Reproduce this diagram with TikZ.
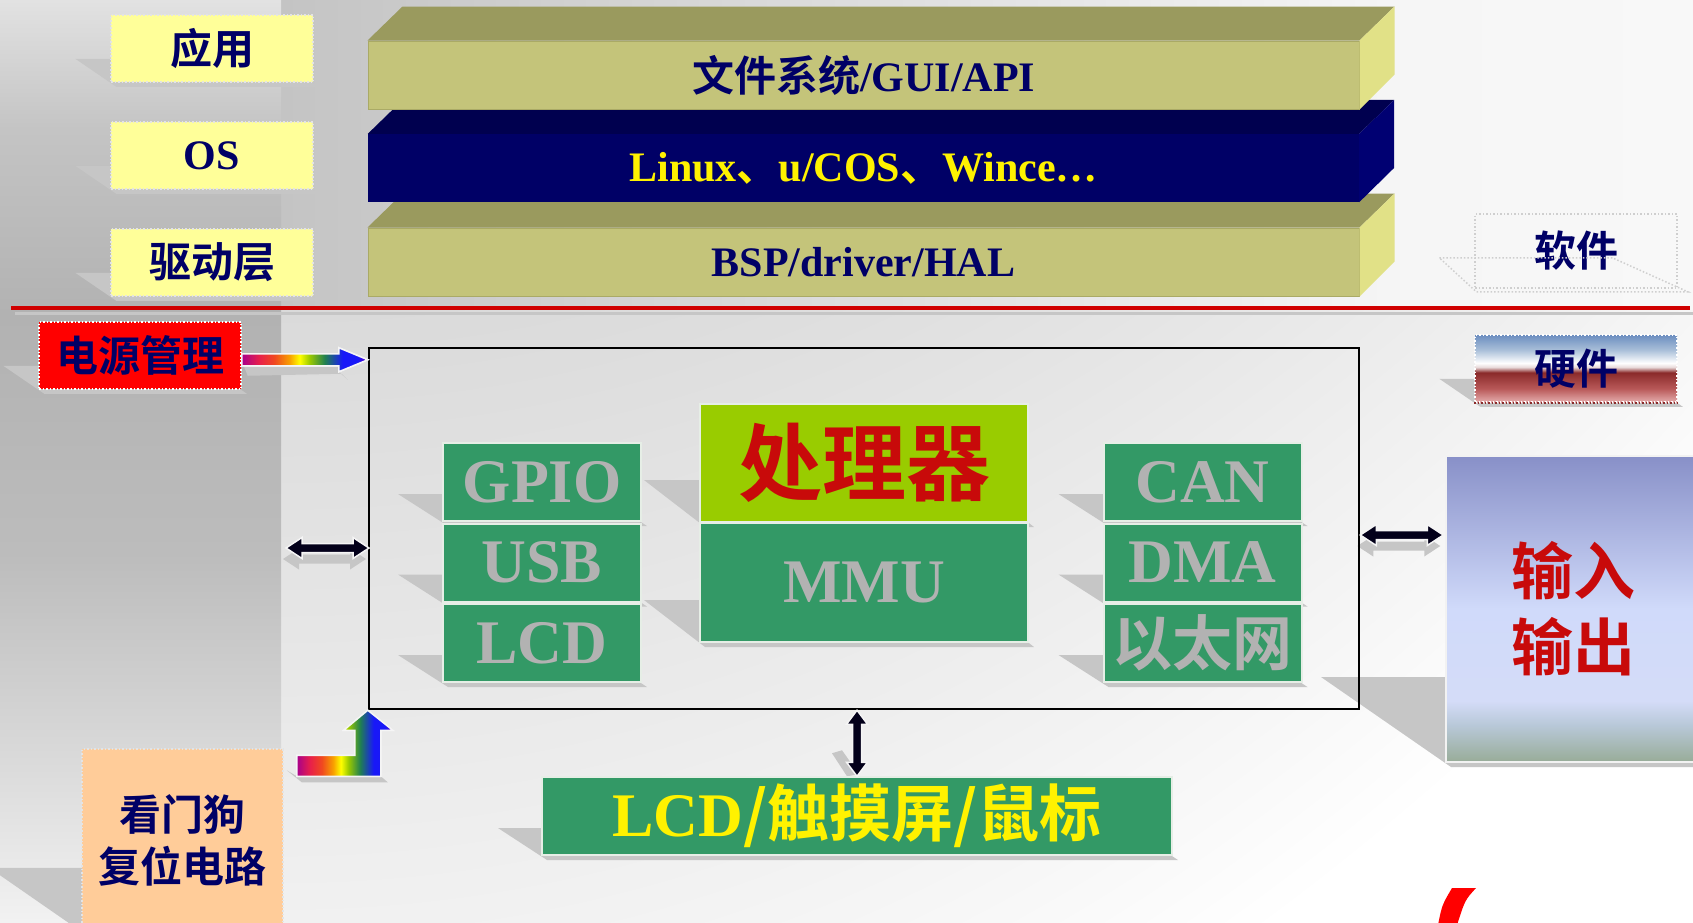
\documentclass[tikz,border=0pt]{standalone}
\usepackage{fontspec}
\setmainfont{Liberation Serif}
\newfontfamily\cjk{Noto Sans CJK SC}[UprightFont=* Bold,BoldFont=* Bold]
\usetikzlibrary{calc}
\newcommand\fsz[1]{\fontsize{#1}{#1}\selectfont}
\definecolor{lblyellow}{HTML}{FFFF99}
\definecolor{navy}{HTML}{000066}
\definecolor{barfront}{HTML}{C4C47A}
\definecolor{baredge}{HTML}{AAAA66}
\definecolor{bartop}{HTML}{9A9A5E}
\definecolor{barside}{HTML}{E1E187}
\definecolor{navytop}{HTML}{00004F}
\definecolor{navyside}{HTML}{000072}
\definecolor{grn}{HTML}{339966}
\definecolor{blkline}{HTML}{E6EEE6}
\definecolor{cpugrn}{HTML}{99CC00}
\definecolor{txtgray}{HTML}{B2B2B2}
\definecolor{cpured}{HTML}{C80A0A}
\definecolor{peach}{HTML}{FFCC99}
\definecolor{shadowc}{HTML}{C6C6C6}
\definecolor{dotc}{HTML}{E4E4E4}
\definecolor{dotgray}{HTML}{CFCFCF}
\definecolor{redline}{HTML}{D00000}
\definecolor{arrowblk}{HTML}{03001A}
% shading colours
\definecolor{lb1}{HTML}{F2F2F2}\definecolor{lb2}{HTML}{DCDCDC}\definecolor{lb3}{HTML}{BCBCBC}
\definecolor{lb4}{HTML}{B2B2B2}\definecolor{lb5}{HTML}{C4C4C4}\definecolor{lb6}{HTML}{E2E2E2}
\definecolor{tb1}{HTML}{C4C4C4}\definecolor{tb2}{HTML}{F6F6F6}\definecolor{tb3}{HTML}{F8F8F8}
\definecolor{hw1}{HTML}{E4ACAC}\definecolor{hw2}{HTML}{B85858}\definecolor{hw3}{HTML}{8A2A2A}
\definecolor{hw4}{HTML}{E8DADA}\definecolor{hw5}{HTML}{FFFFFF}\definecolor{hw6}{HTML}{A8BED8}\definecolor{hw7}{HTML}{6C8EC0}
\definecolor{io1}{HTML}{98AC98}\definecolor{io2}{HTML}{B8C8D8}\definecolor{io3}{HTML}{D4DCF8}
\definecolor{io4}{HTML}{D0DAFA}\definecolor{io5}{HTML}{8890C8}
\definecolor{rb1}{HTML}{A8008C}\definecolor{rb2}{HTML}{E8204A}\definecolor{rb3}{HTML}{F04820}
\definecolor{rb4}{HTML}{F8A000}\definecolor{rb5}{HTML}{FFFF00}\definecolor{rb6}{HTML}{98C800}
\definecolor{rb7}{HTML}{208050}\definecolor{rb8}{HTML}{1818F8}\definecolor{rb9}{HTML}{6800C0}
\pgfdeclareverticalshading{leftbg}{100bp}{color(0bp)=(lb1); color(25bp)=(lb1); color(33bp)=(lb2); color(45bp)=(lb3); color(58bp)=(lb4); color(68bp)=(lb5); color(75bp)=(lb6); color(100bp)=(lb6)}
\pgfdeclarehorizontalshading{topbg}{100bp}{color(0bp)=(tb1); color(25bp)=(tb1); color(65bp)=(tb2); color(75bp)=(tb3); color(100bp)=(tb3)}
\pgfdeclarefunctionalshading{lowbg}{\pgfpoint{0bp}{0bp}}{\pgfpoint{100bp}{100bp}}{}{
 25 sub 50 div 1 exch sub 0.09 mul
 exch 25 sub 50 div dup mul 0.11 mul
 add 0.855 add
 dup dup
}
\pgfdeclareverticalshading{hwshade}{100bp}{color(0bp)=(hw1); color(25bp)=(hw1); color(35bp)=(hw2); color(47bp)=(hw3); color(51bp)=(hw4); color(54bp)=(hw5); color(64bp)=(hw6); color(75bp)=(hw7); color(100bp)=(hw7)}
\pgfdeclareverticalshading{ioshade}{100bp}{color(0bp)=(io1); color(25bp)=(io1); color(31bp)=(io2); color(35bp)=(io3); color(50bp)=(io4); color(75bp)=(io5); color(100bp)=(io5)}
\pgfdeclarehorizontalshading{rainbow}{100bp}{color(0bp)=(rb1); color(25bp)=(rb1); color(32bp)=(rb2); color(38bp)=(rb3); color(44bp)=(rb4); color(48bp)=(rb5); color(52bp)=(rb6); color(58bp)=(rb7); color(65bp)=(rb8); color(71bp)=(rb8); color(75bp)=(rb9); color(100bp)=(rb9)}
\pgfdeclarelayer{bg}\pgfdeclarelayer{shadow}
\pgfsetlayers{bg,shadow,main}
\newcommand\dblh[3]{\filldraw[#3] (#1) -- ++(16,-10.5) -- ++(0,6) -- ++({#2-32},0) -- ++(0,-6) -- ++(16,10.5) -- ++(-16,10.5) -- ++(0,-6) -- ++({32-#2},0) -- ++(0,6) -- cycle;}
\newcommand\dblv[3]{\filldraw[#3] (#1) -- ++(10.5,14) -- ++(-6,0) -- ++(0,{#2-28}) -- ++(6,0) -- ++(-10.5,14) -- ++(-10.5,-14) -- ++(6,0) -- ++(0,{28-#2}) -- ++(-6,0) -- cycle;}
\newcommand\shd[3]{\fill[shadowc] ($(#1.south west)+(-#2,-#3)$) -- ($(#1.south east)+(-#2,-#3)$) -- ($(#1.south east)+(5,4)$) -- ($(#1.south west)+(6,4)$) -- cycle;}
\tikzset{
 lbl/.style={fill=lblyellow, draw=dotc, dotted, line width=1.5, minimum width=202, minimum height=67, inner sep=0, text=navy, font=\fsz{42}\cjk},
 barface/.style={minimum width=991, minimum height=68, inner sep=0, font=\fsz{42}\bfseries},
 gblk/.style={fill=grn, draw=blkline, line width=2, minimum width=198, minimum height=78, inner sep=0, text=txtgray, font=\fsz{62}\bfseries},
 blackarrow/.style={fill=arrowblk, draw=white!92!gray, line width=1.5},
 arrowshadow/.style={fill=shadowc, draw=none},
 rainbowarrow/.style={shading=rainbow, draw=white!92!gray, line width=1.5},
}
\begin{document}
\begin{tikzpicture}[x=1pt,y=-1pt]
\useasboundingbox (0,0) rectangle (1693,922);
% ---------- bars (bottom first) ----------
\node[barface, fill=barfront, draw=baredge, line width=1, text=navy] (barC) at (863.5,262) {BSP/driver/HAL};
\fill[bartop] (barC.north west) -- ++(35,-34) -- ($(barC.north east)+(35,-34)$) -- (barC.north east) -- cycle;
\fill[barside] (barC.north east) -- ++(35,-34) -- ++(0,68) -- (barC.south east) -- cycle;
\node[barface, fill=navy, text=yellow] (barB) at (863.5,168) {Linux{\cjk 、}u/COS{\cjk 、}Wince…};
\fill[navytop] (barB.north west) -- ++(35,-34) -- ($(barB.north east)+(35,-34)$) -- (barB.north east) -- cycle;
\fill[navyside] (barB.north east) -- ++(35,-34) -- ++(0,68) -- (barB.south east) -- cycle;
\node[barface, fill=barfront, draw=baredge, line width=1, text=navy] (barA) at (863.5,75) {{\cjk 文件系统}/GUI/API};
\fill[bartop] (barA.north west) -- ++(35,-34) -- ($(barA.north east)+(35,-34)$) -- (barA.north east) -- cycle;
\fill[barside] (barA.north east) -- ++(35,-34) -- ++(0,68) -- (barA.south east) -- cycle;
% ---------- left labels ----------
\node[lbl] (app) at (212,48.5) {应用};
\node[lbl, font=\fsz{42}\bfseries] (os) at (212,155.5) {OS};
\node[lbl] (drv) at (212,262.5) {驱动层};
\node[lbl, fill=red, draw=white] (pwr) at (140,355.5) {电源管理};
\node[fill=peach, draw=dotc, dotted, line width=1.5, minimum width=201, minimum height=182, inner sep=0, text=navy, align=center, font=\fontsize{42}{52}\selectfont\cjk] (wd) at (182.5,840) {看门狗\\复位电路};
% ---------- right labels ----------
\node[draw=dotgray, dotted, line width=1.5, minimum width=202, minimum height=74, inner sep=0, text=navy, font=\fsz{42}\cjk] (sw) at (1576,251) {软件};
\draw[dotgray, dotted, line width=1.5] ($(sw.south west)+(-35,-31)$) -- ($(sw.south west)+(138,-31)$) -- ($(sw.south east)+(10,3)$) -- ($(sw.south west)+(2,3)$) -- cycle;
\node[shading=hwshade, draw=white, dotted, line width=1.5, minimum width=202, minimum height=67, inner sep=0, text=navy, font=\fsz{42}\cjk] (hw) at (1576,368.5) {硬件};
\draw[hw3, dotted, line width=1.5] (hw.south west) -- (hw.south east);
% ---------- hardware ----------
\node[draw=black, line width=2.5, minimum width=990, minimum height=361, inner sep=0] (cont) at (864,528.5) {};
\node[gblk] (gpio) at (542,482) {GPIO};
\node[gblk] (usb) at (542,562.5) {USB};
\node[gblk] (lcd) at (542,643) {LCD};
\node[gblk] (can) at (1202.5,482) {CAN};
\node[gblk] (dma) at (1202.5,562.5) {DMA};
\node[gblk, font=\fsz{60}\cjk] (eth) at (1202.5,643) {以太网};
\node[gblk, fill=cpugrn, text=cpured, minimum width=328, minimum height=118, font=\fsz{84}\cjk] (cpu) at (864,463) {处理器};
\node[gblk, minimum width=328, minimum height=119] (mmu) at (864,582.5) {MMU};
\node[shading=ioshade, draw=white!90!gray, line width=2, minimum width=254, minimum height=306, inner sep=0, text=cpured, align=center, font=\fontsize{62}{76}\selectfont\cjk] (io) at (1573,609) {输入\\输出};
\node[gblk, text=yellow, minimum width=630] (lcdt) at (857,816) {LCD{\cjk /触摸屏/鼠标}};
% ---------- arrows ----------
\coordinate (ptip) at ($(cont.north west)+(0,13)$);
\coordinate (la) at (286,548);
\coordinate (ra) at (1444,535);
\coordinate (vt) at (lcdt.north |- cont.south);
\shade[rainbowarrow] ($(pwr.east |- ptip)+(0,-6)$) -- ($(ptip)+(-29,-6)$) -- ($(ptip)+(-29,-12)$) -- (ptip) -- ($(ptip)+(-29,12)$) -- ($(ptip)+(-29,6)$) -- ($(pwr.east |- ptip)+(0,6)$) -- cycle;
\draw[rainbowarrow] ($(pwr.east |- ptip)+(0,-6)$) -- ($(ptip)+(-29,-6)$) -- ($(ptip)+(-29,-12)$) -- (ptip) -- ($(ptip)+(-29,12)$) -- ($(ptip)+(-29,6)$) -- ($(pwr.east |- ptip)+(0,6)$) -- cycle;
\shade[rainbowarrow] (cont.south west) -- ++(25,20) -- ++(-12,0) -- ++(0,46) -- ++(-84,0) -- ++(0,-21) -- ++(58,0) -- ++(0,-25) -- ++(-11,0) -- cycle;
\draw[rainbowarrow] (cont.south west) -- ++(25,20) -- ++(-12,0) -- ++(0,46) -- ++(-84,0) -- ++(0,-21) -- ++(58,0) -- ++(0,-25) -- ++(-11,0) -- cycle;
\dblh{la}{83}{blackarrow}
\dblh{cont.east |- ra}{83}{blackarrow}
\dblv{vt}{66}{blackarrow}
% bottom-right mark
\fill[red] (1438,925) .. controls (1442,905) .. (1452,888) -- (1476,888) .. controls (1465,900) .. (1457,925) -- cycle;
% ---------- shadows ----------
\begin{pgfonlayer}{shadow}
\shd{app}{35}{24}\shd{os}{35}{24}\shd{drv}{35}{24}\shd{pwr}{35}{24}\shd{hw}{35}{24}
\shd{wd}{92}{64}
\shd{gpio}{44}{28}\shd{usb}{44}{28}\shd{lcd}{44}{28}
\shd{can}{44}{28}\shd{dma}{44}{28}\shd{eth}{44}{28}
\shd{cpu}{55}{43}\shd{mmu}{55}{43}
\shd{io}{124}{86}
\shd{lcdt}{43}{28}
\fill[shadowc] ($(pwr.east |- ptip)+(2,6)$) -- ($(ptip)+(-29,6)$) -- ($(ptip)+(-29,12)$) -- ($(ptip)+(-20,20)$) -- ($(ptip)+(-26,14)$) -- ($(pwr.east |- ptip)+(6,16)$) -- cycle;
\fill[shadowc] ($(cont.south west)+(-81,60)$) -- ($(cont.south west)+(-71,66)$) -- ($(cont.south west)+(13,66)$) -- ($(cont.south west)+(20,72)$) -- ($(cont.south west)+(-66,72)$) -- cycle;
\dblh{$(la)+(-3,11)$}{83}{arrowshadow}
\dblh{$(cont.east |- ra)+(-3,11)$}{83}{arrowshadow}
\fill[shadowc] ($(vt)+(-25,43)$) -- ($(vt)+(-15,40)$) -- ($(vt)+(2,64)$) -- ($(vt)+(-10,66)$) -- cycle;
\end{pgfonlayer}
% ---------- background ----------
\begin{pgfonlayer}{bg}
\shade[shading=topbg] (281,0) rectangle (1693,310);
\shade[shading=lowbg] (281,310) rectangle (1693,922);
\shade[shading=leftbg] (0,0) rectangle (281,922);
\draw[shadowc, line width=3] (15,313) -- (1693,313);
\draw[redline, line width=4] (11,308) -- (1690,308);
\end{pgfonlayer}
\end{tikzpicture}
\end{document}
